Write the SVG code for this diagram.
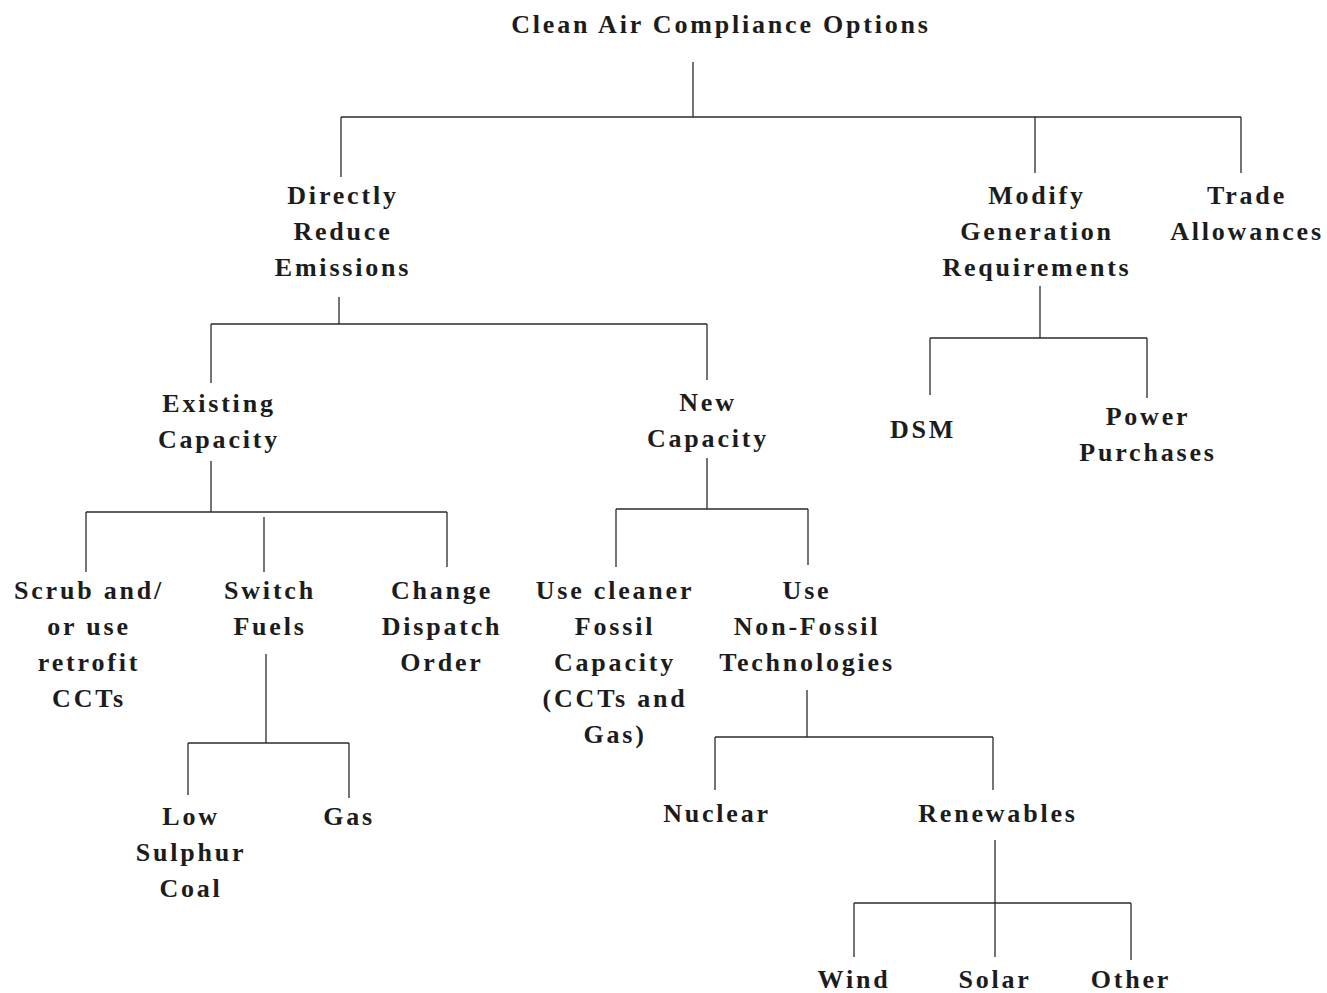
<svg xmlns="http://www.w3.org/2000/svg" width="1327" height="993" viewBox="0 0 1327 993">
<style>
text{font-family:"Liberation Serif","Times New Roman",serif;font-weight:bold;font-size:26px;letter-spacing:2.8px;fill:#1c1c1c;text-anchor:middle}
.c line{stroke:#2a2a2a;stroke-width:1.3;fill:none}
</style>
<rect width="1327" height="993" fill="#fff"/>
<g class="c" id="connectors">
<line x1="693" y1="62" x2="693" y2="117"/>
<line x1="341" y1="117" x2="1241" y2="117"/>
<line x1="341" y1="117" x2="341" y2="177"/>
<line x1="1035" y1="117" x2="1035" y2="173"/>
<line x1="1241" y1="117" x2="1241" y2="173"/>
<line x1="339" y1="297" x2="339" y2="324"/>
<line x1="211" y1="324" x2="707" y2="324"/>
<line x1="211" y1="324" x2="211" y2="383"/>
<line x1="707" y1="324" x2="707" y2="380"/>
<line x1="1040" y1="286" x2="1040" y2="338"/>
<line x1="930" y1="338" x2="1147" y2="338"/>
<line x1="930" y1="338" x2="930" y2="395"/>
<line x1="1147" y1="338" x2="1147" y2="398"/>
<line x1="211" y1="461" x2="211" y2="512"/>
<line x1="86" y1="512" x2="447" y2="512"/>
<line x1="86" y1="512" x2="86" y2="572"/>
<line x1="264" y1="517" x2="264" y2="572"/>
<line x1="447" y1="512" x2="447" y2="567"/>
<line x1="707" y1="458" x2="707" y2="509"/>
<line x1="616" y1="509" x2="808" y2="509"/>
<line x1="616" y1="509" x2="616" y2="567"/>
<line x1="808" y1="509" x2="808" y2="565"/>
<line x1="266" y1="654" x2="266" y2="743"/>
<line x1="188" y1="743" x2="349" y2="743"/>
<line x1="188" y1="743" x2="188" y2="795"/>
<line x1="349" y1="743" x2="349" y2="798"/>
<line x1="807" y1="690" x2="807" y2="737"/>
<line x1="715" y1="737" x2="993" y2="737"/>
<line x1="715" y1="737" x2="715" y2="790"/>
<line x1="993" y1="737" x2="993" y2="790"/>
<line x1="995" y1="840" x2="995" y2="957"/>
<line x1="854" y1="903" x2="1131" y2="903"/>
<line x1="854" y1="903" x2="854" y2="957"/>
<line x1="1131" y1="903" x2="1131" y2="960"/>
</g>
<g id="root"><text x="721" y="33">Clean Air Compliance Options</text></g>
<g id="directly"><text x="343" y="204">Directly</text><text x="343" y="240">Reduce</text><text x="343" y="276">Emissions</text></g>
<g id="modify"><text x="1037" y="204">Modify</text><text x="1037" y="240">Generation</text><text x="1037" y="276">Requirements</text></g>
<g id="trade"><text x="1247" y="204">Trade</text><text x="1247" y="240">Allowances</text></g>
<g id="existing"><text x="219" y="412">Existing</text><text x="219" y="448">Capacity</text></g>
<g id="new"><text x="708" y="411">New</text><text x="708" y="447">Capacity</text></g>
<g id="dsm"><text x="923" y="438">DSM</text></g>
<g id="power"><text x="1148" y="425">Power</text><text x="1148" y="461">Purchases</text></g>
<g id="scrub"><text x="89" y="599">Scrub and/</text><text x="89" y="635">or use</text><text x="89" y="671">retrofit</text><text x="89" y="707">CCTs</text></g>
<g id="switch"><text x="270" y="599">Switch</text><text x="270" y="635">Fuels</text></g>
<g id="change"><text x="442" y="599">Change</text><text x="442" y="635">Dispatch</text><text x="442" y="671">Order</text></g>
<g id="cleaner"><text x="615" y="599">Use cleaner</text><text x="615" y="635">Fossil</text><text x="615" y="671">Capacity</text><text x="615" y="707">(CCTs and</text><text x="615" y="743">Gas)</text></g>
<g id="nonfossil"><text x="807" y="599">Use</text><text x="807" y="635">Non-Fossil</text><text x="807" y="671">Technologies</text></g>
<g id="lowsulphur"><text x="191" y="825">Low</text><text x="191" y="861">Sulphur</text><text x="191" y="897">Coal</text></g>
<g id="gas"><text x="349" y="825">Gas</text></g>
<g id="nuclear"><text x="717" y="822">Nuclear</text></g>
<g id="renewables"><text x="998" y="822">Renewables</text></g>
<g id="wind"><text x="854" y="988">Wind</text></g>
<g id="solar"><text x="995" y="988">Solar</text></g>
<g id="other"><text x="1131" y="988">Other</text></g>
</svg>
